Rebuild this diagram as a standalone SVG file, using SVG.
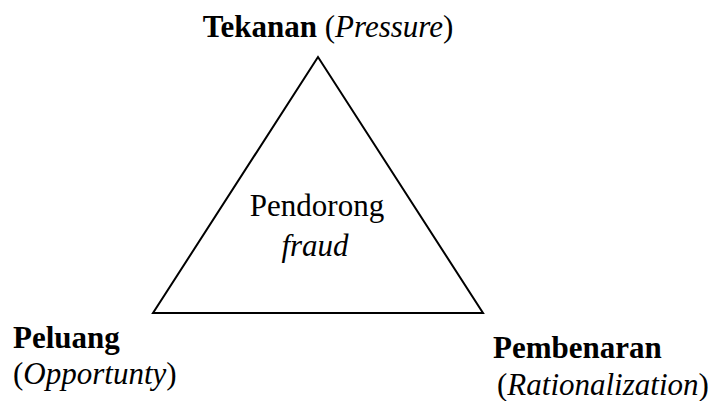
<svg xmlns="http://www.w3.org/2000/svg" width="715" height="401" viewBox="0 0 715 401">
<style>
text{font-family:"Liberation Serif","Times New Roman",serif;font-size:31px;fill:#000}
.b{font-weight:bold}
.i{font-style:italic}
</style>
<rect width="715" height="401" fill="#fff"/>
<g id="triangle">
<polygon points="318,57 153,313 483,313" fill="none" stroke="#000" stroke-width="2" stroke-linejoin="miter"/>
</g>
<g id="center">
<text x="317" y="216" text-anchor="middle">Pendorong</text>
<text x="315" y="256" text-anchor="middle" class="i">fraud</text>
</g>
<g id="pressure">
<text x="328" y="37" text-anchor="middle"><tspan class="b">Tekanan</tspan> (<tspan class="i">Pressure</tspan>)</text>
</g>
<g id="opportunity">
<text x="13" y="348" class="b">Peluang</text>
<text x="13" y="384">(<tspan class="i">Opportunty</tspan>)</text>
</g>
<g id="rationalization">
<text x="493" y="358" class="b">Pembenaran</text>
<text x="497" y="395">(<tspan class="i">Rationalization</tspan>)</text>
</g>
</svg>
